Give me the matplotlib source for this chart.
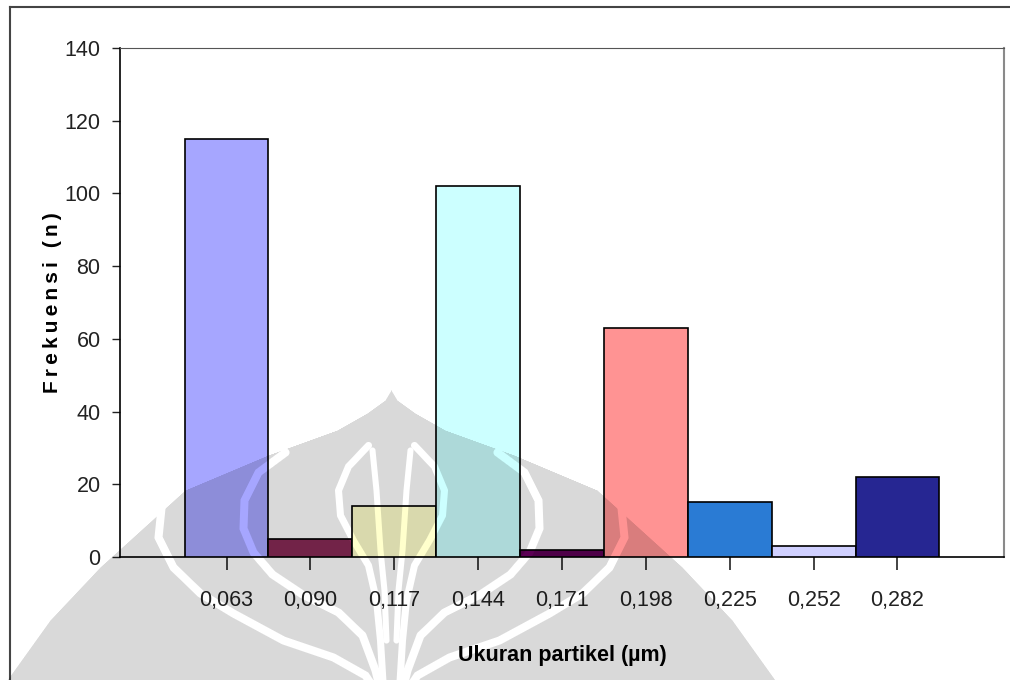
import matplotlib

matplotlib.use("Agg")

import matplotlib.pyplot as plt
import numpy as np
from matplotlib.lines import Line2D


UKURAN = ["0,063", "0,090", "0,117", "0,144", "0,171", "0,198", "0,225", "0,252", "0,282"]
FREKUENSI = [115, 5, 14, 102, 2, 63, 15, 3, 22]
WARNA = ["#A6A6FF", "#862A55", "#FFFFCC", "#CCFFFF", "#5C0055",
         "#FF9393", "#2A7BD4", "#D0D0FF", "#262692"]

W_PX, H_PX = 1010, 680

# garis luar logo (jarak dari puncak -> setengah lebar), dalam piksel
KUBAH_D = [0, 10, 23, 40, 65, 100, 177, 230, 290, 400]
KUBAH_HW = [0, 6, 24, 54, 123, 206, 291, 341, 384, 440]
PUSAT_X, PUNCAK_Y = 391, 390

# celah putih di dalam logo (sisi kiri, dicerminkan ke kanan)
CELAH = [
    ([(162, 498), (158, 537), (173, 567), (200, 593), (233, 613), (283, 640),
      (333, 657), (365, 675), (375, 690)], 8),
    ([(285, 452), (258, 472), (244, 500), (243, 528), (253, 552), (272, 574),
      (302, 594), (338, 612), (362, 635), (375, 670), (380, 690)], 8),
    ([(368, 445), (348, 466), (338, 490), (340, 515), (353, 540), (368, 565),
      (376, 600), (380, 640), (383, 690)], 7),
    ([(372, 450), (376, 490), (378, 520), (380, 550), (384, 590), (386, 640)], 6),
]


def jarak_ke_garis(xx, yy, titik):
    dist = np.full(xx.shape, np.inf)
    for (x0, y0), (x1, y1) in zip(titik[:-1], titik[1:]):
        dx, dy = x1 - x0, y1 - y0
        t = ((xx - x0) * dx + (yy - y0) * dy) / float(dx * dx + dy * dy)
        t = np.clip(t, 0, 1)
        px, py = x0 + t * dx, y0 + t * dy
        dist = np.minimum(dist, np.hypot(xx - px, yy - py))
    return dist


def buat_watermark():
    yy, xx = np.mgrid[0:H_PX, 0:W_PX].astype(float)
    d = yy - PUNCAK_Y
    hw = np.interp(d, KUBAH_D, KUBAH_HW)
    # tepi dibuat sedikit halus
    alpha = np.clip(hw - np.abs(xx - PUSAT_X) + 0.5, 0, 1) * (d >= 0)

    for titik, lebar in CELAH:
        cermin = [(2 * PUSAT_X - x, y) for x, y in titik]
        for garis in (titik, cermin):
            jarak = jarak_ke_garis(xx, yy, garis)
            alpha *= np.clip(jarak - lebar / 2 + 0.5, 0, 1)

    img = np.zeros((H_PX, W_PX, 4))
    img[..., 3] = 0.15 * alpha
    return img


def main():
    plt.rcParams["font.family"] = ["Liberation Sans", "DejaVu Sans"]

    fig = plt.figure(figsize=(W_PX / 100, H_PX / 100), dpi=100)
    ax = fig.add_axes([120 / W_PX, 1 - 557 / H_PX, 884 / W_PX, 509 / H_PX])

    x = np.arange(len(FREKUENSI))
    ax.bar(x, FREKUENSI, width=1.0, color=WARNA, edgecolor="black",
           linewidth=1.2, zorder=3)

    ax.set_xlim(-1.27, len(FREKUENSI) - 1 + 1.27)
    ax.set_ylim(0, 140)
    ax.set_yticks(np.arange(0, 141, 20))
    ax.set_xticks(x)
    ax.set_xticklabels(UKURAN)

    ax.tick_params(axis="y", direction="out", length=6, width=1,
                   pad=8, labelsize=15.5, colors="#222222")
    ax.tick_params(axis="x", direction="out", length=9.5, width=1.2,
                   pad=14, labelsize=15.5, colors="#222222")

    for side in ("left", "bottom"):
        ax.spines[side].set_color("black")
        ax.spines[side].set_linewidth(1.2)
    ax.spines["top"].set_color("#555555")
    ax.spines["right"].set_color("#8a8a8a")
    ax.spines["right"].set_linewidth(1.5)

    ax.set_ylabel("\u2009".join("Frekuensi (n)"), fontsize=15, fontweight="bold")
    ax.yaxis.set_label_coords(-0.066, 0.5)
    ax.set_xlabel("Ukuran partikel (µm)", fontsize=15.5, fontweight="bold")
    ax.xaxis.set_label_coords(0.5, -0.172)

    # bingkai luar grafik
    fig.add_artist(Line2D([10 / W_PX, 1], [1 - 7 / H_PX, 1 - 7 / H_PX],
                          color="#444444", lw=1.5, transform=fig.transFigure))
    fig.add_artist(Line2D([10 / W_PX, 10 / W_PX], [0, 1 - 7 / H_PX],
                          color="#444444", lw=1.5, transform=fig.transFigure))

    fig.figimage(buat_watermark(), xo=0, yo=0, origin="upper", zorder=10)

    fig.savefig("out.png", dpi=100)
    plt.close(fig)


if __name__ == "__main__":
    main()
